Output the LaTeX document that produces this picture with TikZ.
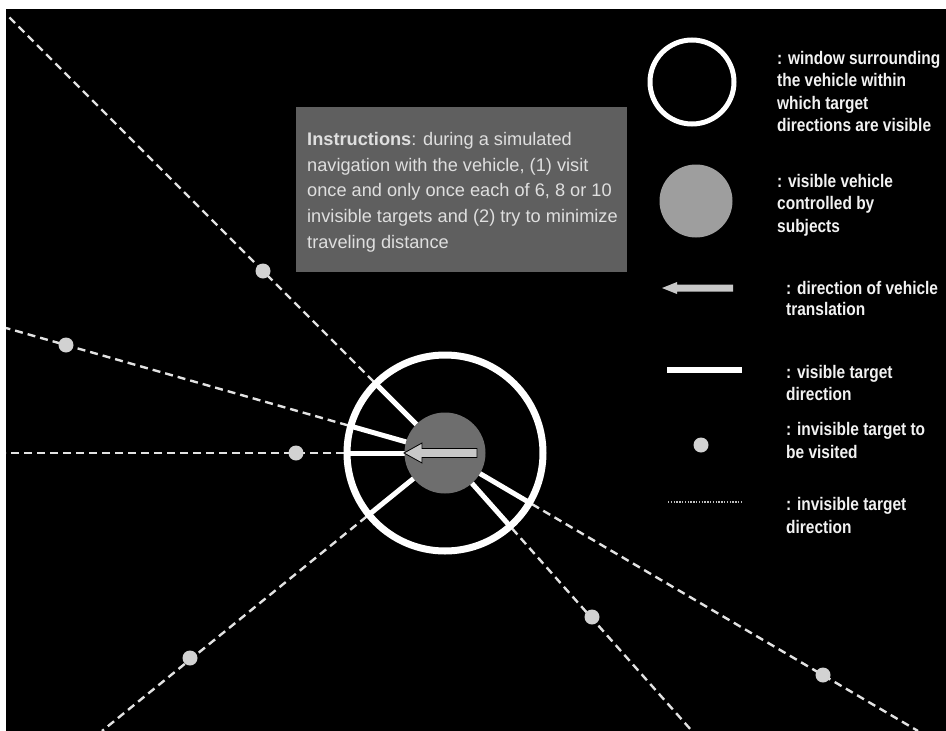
\documentclass[tikz,border=0pt]{standalone}
\usepackage{fontspec}
\setmainfont{Liberation Sans}
\newfontfamily\legfont[FakeStretch=0.85]{Liberation Sans}
\usetikzlibrary{calc}
\definecolor{boxgray}{HTML}{5F5F5F}
\definecolor{vehgray}{HTML}{6E6E6E}
\definecolor{leggray}{HTML}{9E9E9E}
\definecolor{dotgray}{HTML}{D2D2D2}
\definecolor{dashgray}{HTML}{E2E2E2}
\definecolor{arrowgray}{HTML}{C8C8C8}
\definecolor{txtwhite}{HTML}{F2F2F2}
\begin{document}
\begin{tikzpicture}[x=1pt,y=-1pt,
  invdir/.style={dashgray, line width=2.4pt, dash pattern=on 8pt off 5pt},
  visdir/.style={white, line width=5pt},
  target/.style={circle, fill=dotgray, minimum size=15pt, inner sep=0pt},
  legtext/.style={anchor=base west, inner sep=0pt, text=txtwhite, font=\legfont\bfseries\fontsize{18.2}{20}\selectfont},
  boxtext/.style={anchor=base west, inner sep=0pt, text=txtwhite!92!black, font=\fontsize{18.2}{22}\selectfont}]
\useasboundingbox (0,0) rectangle (946,731);
\fill[white] (0,0) rectangle (946,731);
\fill[black] (6,9) rectangle (946,731);

\coordinate (C) at (445,453);
\coordinate (E1) at (6,14);
\coordinate (E2) at (6,328);
\coordinate (E3) at (6,453);
\coordinate (E4) at (102,731);
\coordinate (E5) at (918,731);
\coordinate (E6) at (692,731);

% invisible target directions
\begin{scope}
\clip (6,9) rectangle (946,731);
\foreach \e in {E1,E2,E3,E4,E5,E6}
  \draw[invdir] ($(C)!101pt!(\e)$) -- (\e);
\end{scope}

% invisible targets
\node[target] (t1) at (263,271) {};
\node[target] (t2) at (66,345) {};
\node[target] (t3) at (296,453) {};
\node[target] (t4) at (190,658) {};
\node[target] (t5) at (823,675) {};
\node[target] (t6) at (592,617) {};

% visible target directions
\foreach \e in {E1,E2,E3,E4,E5,E6}
  \draw[visdir] ($(C)!40pt!(\e)$) -- ($(C)!98pt!(\e)$);

% window and vehicle
\node[circle, draw=white, line width=7pt, minimum size=196pt, inner sep=0pt] (win) at (C) {};
\node[circle, fill=vehgray, minimum size=81pt, inner sep=0pt] (veh) at (C) {};
\draw[black, line width=0.8pt, fill=arrowgray] (404,453) -- (422,443) -- (422,448.5) -- (477,448.5)
  -- (477,457.5) -- (422,457.5) -- (422,463) -- cycle;

% instruction box
\node[fill=boxgray, minimum width=331pt, minimum height=165pt, anchor=north west, inner sep=0pt] (box) at (296,107) {};
\node[boxtext] (b1) at (307,145) {{\bfseries Instructions}: during a simulated};
\node[boxtext] (b2) at (307,171) {navigation with the vehicle, (1) visit};
\node[boxtext] (b3) at (307,196.5) {once and only once each of 6, 8 or 10};
\node[boxtext] (b4) at (307,222.5) {invisible targets and (2) try to minimize};
\node[boxtext] (b5) at (307,248) {traveling distance};

% legend
\node[circle, draw=white, line width=5pt, minimum size=84pt, inner sep=0pt] (lwin) at (692,82) {};
\node[circle, fill=leggray, minimum size=73pt, inner sep=0pt] (lveh) at (696,201) {};
\fill[arrowgray] (662,288) -- (677,282) -- (677,284.5) -- (733,284.5) -- (733,291.5) -- (677,291.5) -- (677,294) -- cycle;
\draw[white, line width=5.5pt] (667,370) -- (742,370);
\node[target] (ldot) at (701,445) {};
\draw[dashgray!85!black, line width=1.3pt, dash pattern=on 1.3pt off 1.5pt] (668,502) -- (742,502);

\node[legtext] (l11) at (777,64) {: window surrounding};
\node[legtext] (l12) at (777,86.5) {the vehicle within};
\node[legtext] (l13) at (777,109) {which target};
\node[legtext] (l14) at (777,131.5) {directions are visible};
\node[legtext] (l21) at (777,187) {: visible vehicle};
\node[legtext] (l22) at (777,209.5) {controlled by};
\node[legtext] (l23) at (777,232) {subjects};
\node[legtext] (l31) at (786,294) {: direction of vehicle};
\node[legtext] (l32) at (786,315) {translation};
\node[legtext] (l41) at (786,378) {: visible target};
\node[legtext] (l42) at (786,400) {direction};
\node[legtext] (l51) at (786,435) {: invisible target to};
\node[legtext] (l52) at (786,458) {be visited};
\node[legtext] (l61) at (786,510) {: invisible target};
\node[legtext] (l62) at (786,533) {direction};
\end{tikzpicture}
\end{document}
